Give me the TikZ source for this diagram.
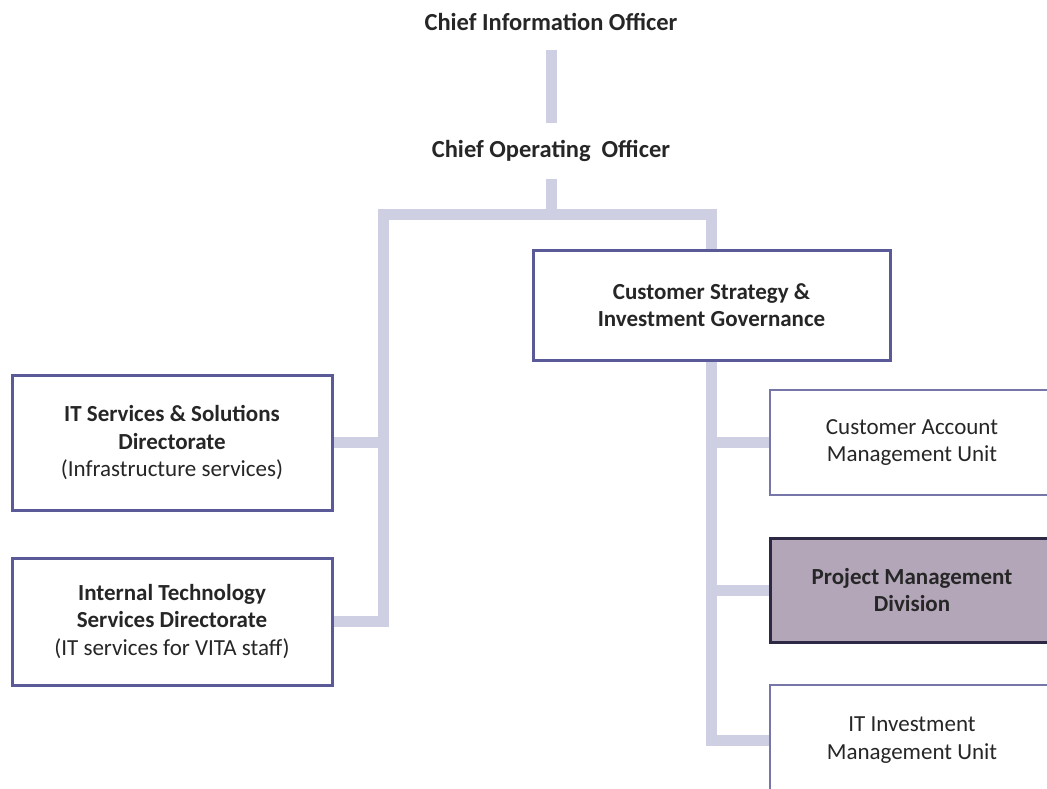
\documentclass[tikz,border=0pt]{standalone}
\usepackage{fontspec}
\setmainfont{Carlito}
\definecolor{conncol}{HTML}{CFCFE3}
\definecolor{boxcol}{HTML}{5A5A98}
\definecolor{thincol}{HTML}{7676A8}
\definecolor{pmfill}{HTML}{B3A6B9}
\definecolor{pmline}{HTML}{2D2944}
\definecolor{txt}{HTML}{262626}
\begin{document}
\begin{tikzpicture}[x=1pt,y=-1pt,
  every node/.style={text=txt,font=\fontsize{23}{27.5}\selectfont,align=center},
  title/.style={font=\fontsize{24.5}{28}\selectfont\bfseries,minimum height=56pt,inner sep=0pt},
  leftbox/.style={draw=boxcol,line width=3pt,fill=white,minimum width=320pt,inner sep=0pt},
  headbox/.style={draw=boxcol,line width=3pt,fill=white,minimum width=357pt,minimum height=110pt,inner sep=0pt},
  unitbox/.style={draw=thincol,line width=1.5pt,fill=white,minimum width=284pt,inner sep=0pt},
  pmbox/.style={draw=pmline,line width=3pt,fill=pmfill,minimum width=284pt,inner sep=0pt},
  conn/.style={draw=conncol,line width=11pt,line join=miter}]
\useasboundingbox (0,0) rectangle (1047,788);
\clip (0,0) rectangle (1047,788);

\node[title] (cio) at (551,22) {Chief Information Officer};
\node[title] (coo) at (551,151) {Chief Operating\ \ Officer};

\node[headbox] (csig) at (711.5,305) {\bfseries Customer Strategy \&\\\bfseries Investment Governance};

\node[leftbox,minimum height=135pt] (iss) at (172,442.5) {\bfseries IT Services \& Solutions\\\bfseries Directorate\\(Infrastructure services)};
\node[leftbox,minimum height=127pt] (itd) at (172,621.5) {\bfseries Internal Technology\\\bfseries Services Directorate\\(IT services for VITA staff)};

\node[unitbox,minimum height=105pt] (cam) at (912,442.5) {Customer Account\\Management Unit};
\node[pmbox,minimum height=104pt] (pmd) at (912,590) {\bfseries Project Management\\\bfseries Division};
\node[unitbox,minimum height=110pt] (iim) at (912,740) {IT Investment\\Management Unit};

\coordinate (jc) at (551,214);
\coordinate (jl) at (383,214);

\draw[conn] (cio.south) -- (coo.north);
\draw[conn] (coo.south) -- (jc);
\draw[conn] (itd.east) -| (jl) -| (csig.north);
\draw[conn] (jl |- iss.east) -- (iss.east);
\draw[conn] (csig.south) |- (iim.west);
\draw[conn] (csig.south |- cam.west) -- (cam.west);
\draw[conn] (csig.south |- pmd.west) -- (pmd.west);

\end{tikzpicture}
\end{document}
